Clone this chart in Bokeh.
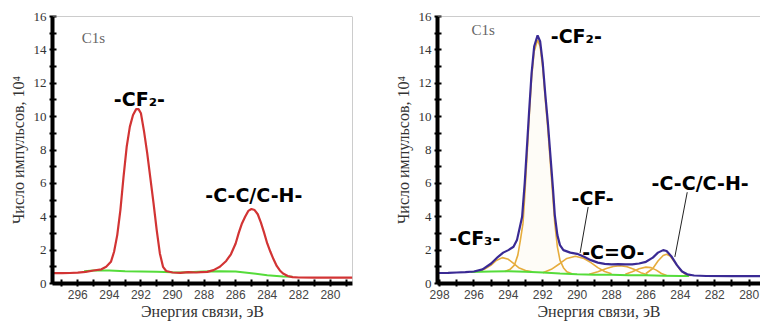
from bokeh.plotting import figure
from bokeh.layouts import row
from bokeh.models import Range1d, FixedTicker, Span, Label
from bokeh.embed import file_html
from bokeh.resources import INLINE

# ---------------- data ----------------
left_total_x = [297.6, 297.0, 296.5, 296.0, 295.5, 295.0, 294.5, 294.2, 293.9, 293.7, 293.5,
                293.3, 293.1, 292.9, 292.7, 292.5, 292.3, 292.15, 292.0, 291.8, 291.6, 291.4,
                291.2, 291.0, 290.8, 290.6, 290.4, 290.0, 289.5, 289.0, 288.5, 288.2, 287.8,
                287.4, 287.0, 286.6, 286.3, 286.0, 285.8, 285.6, 285.4, 285.2, 285.0, 284.8,
                284.6, 284.4, 284.2, 284.0, 283.8, 283.6, 283.4, 283.2, 283.0, 282.7, 282.4,
                282.0, 281.0, 280.0, 278.6]
left_total_y = [0.62, 0.62, 0.63, 0.65, 0.70, 0.78, 0.85, 1.00, 1.30, 1.90, 2.90,
                4.40, 6.40, 8.20, 9.40, 10.10, 10.45, 10.45, 10.20, 9.10, 7.80, 6.30,
                4.80, 3.20, 1.80, 1.00, 0.75, 0.66, 0.64, 0.68, 0.66, 0.68, 0.70,
                0.80, 1.00, 1.35, 1.75, 2.40, 3.05, 3.60, 4.00, 4.35, 4.46, 4.40,
                4.15, 3.65, 3.05, 2.40, 1.90, 1.45, 1.05, 0.78, 0.60, 0.45, 0.38,
                0.36, 0.35, 0.35, 0.35]
left_bg_x = [295.6, 295.0, 294.0, 293.0, 292.0, 291.0, 290.0, 289.5, 289.0, 288.0, 287.0,
             286.0, 285.0, 284.0, 283.0, 282.4]
left_bg_y = [0.74, 0.78, 0.78, 0.74, 0.72, 0.70, 0.67, 0.66, 0.68, 0.72, 0.74,
             0.72, 0.62, 0.50, 0.42, 0.40]

right_total_x = [298.1, 297.5, 297.0, 296.5, 296.0, 295.5, 295.0, 294.6, 294.3, 294.0, 293.7,
                 293.5, 293.35, 293.2, 293.05, 292.9, 292.8, 292.65, 292.5, 292.3, 292.15,
                 292.0, 291.85, 291.7, 291.55, 291.4, 291.3, 291.15, 291.0, 290.8, 290.4,
                 290.0, 289.6, 289.2, 288.8, 288.4, 288.0, 287.6, 287.2, 286.8, 286.4, 286.0,
                 285.6, 285.3, 285.0, 284.8, 284.5, 284.2, 283.9, 283.6, 283.2, 282.5, 281.0,
                 279.3]
right_total_y = [0.63, 0.64, 0.66, 0.68, 0.72, 0.85, 1.20, 1.60, 1.85, 2.00, 2.20,
                 2.60, 3.30, 4.00, 6.00, 8.50, 10.20, 12.60, 14.20, 14.87, 14.50,
                 13.20, 11.30, 9.60, 7.60, 5.60, 4.10, 2.90, 2.30, 2.00, 1.85,
                 1.78, 1.60, 1.40, 1.25, 1.18, 1.15, 1.16, 1.15, 1.15, 1.20, 1.30,
                 1.55, 1.85, 2.00, 1.95, 1.60, 1.10, 0.72, 0.55, 0.48, 0.45, 0.44,
                 0.44]
right_bg_x = [296.2, 295.0, 294.0, 293.0, 292.0, 291.0, 290.0, 289.0, 288.0, 287.0, 286.0,
              285.0, 284.0, 283.5]
right_bg_y = [0.69, 0.72, 0.73, 0.70, 0.66, 0.60, 0.56, 0.53, 0.52, 0.50, 0.49,
              0.47, 0.45, 0.45]

cf3_x = [295.8, 295.4, 295.0, 294.7, 294.35, 294.0, 293.7, 293.4, 293.0, 292.6]
cf3_y = [0.72, 0.85, 1.10, 1.38, 1.55, 1.45, 1.20, 0.95, 0.78, 0.70]

cf2_x = [294.2, 293.9, 293.65, 293.45, 293.3, 293.15, 293.05, 292.9, 292.8, 292.65, 292.5,
         292.3, 292.15, 292.0, 291.85, 291.7, 291.55, 291.4, 291.3, 291.15, 291.0, 290.8,
         290.6, 290.3]
cf2_y = [0.72, 0.85, 1.10, 1.70, 2.60, 3.60, 5.20, 7.90, 9.80, 12.30, 13.90,
         14.60, 14.20, 12.90, 11.00, 9.20, 7.10, 5.00, 3.60, 2.20, 1.40, 0.95,
         0.70, 0.58]

cf_x = [292.0, 291.5, 291.0, 290.6, 290.1, 289.6, 289.2, 288.8, 288.4, 288.0]
cf_y = [0.65, 0.85, 1.20, 1.50, 1.63, 1.50, 1.25, 0.95, 0.72, 0.58]

co_x = [289.3, 288.8, 288.3, 287.9, 287.5, 287.1, 286.7, 286.3, 285.9]
co_y = [0.55, 0.70, 0.90, 1.02, 1.06, 1.00, 0.85, 0.65, 0.52]

c286_x = [287.2, 286.8, 286.4, 286.0, 285.7, 285.4, 285.1, 284.8]
c286_y = [0.55, 0.70, 0.88, 0.98, 0.95, 0.80, 0.60, 0.48]

cc_x = [286.0, 285.6, 285.3, 285.0, 284.8, 284.6, 284.3, 284.0, 283.7, 283.4]
cc_y = [0.60, 0.90, 1.35, 1.68, 1.75, 1.65, 1.25, 0.80, 0.55, 0.46]

y_major = [0, 2, 4, 6, 8, 10, 12, 14, 16]
y_minor = [1, 3, 5, 7, 9, 11, 13, 15]
x_major = [280, 282, 284, 286, 288, 290, 292, 294, 296, 298]
x_minor = [279, 281, 283, 285, 287, 289, 291, 293, 295, 297]

y_label = "Число импульсов, 10⁴"
x_label = "Энергия связи, эВ"

# ---------------- styling ----------------
RED = "#d23434"
BLUE = "#3a2a94"
GREEN = "#55dc3a"
ORANGE = "#e6ac3c"
SERIF = "Liberation Serif"
SANS = "Liberation Sans"
BOLD = "DejaVu Sans"
FRAME = "#9a9a9a"
AXIS = "#000000"


def style_axes(p):
    p.xaxis.ticker = FixedTicker(ticks=x_major, minor_ticks=x_minor)
    p.yaxis.ticker = FixedTicker(ticks=y_major, minor_ticks=y_minor)
    p.xaxis.axis_line_width = 4
    p.yaxis.axis_line_width = 4
    p.xaxis.axis_line_color = AXIS
    p.yaxis.axis_line_color = AXIS
    p.axis.major_tick_line_color = AXIS
    p.axis.minor_tick_line_color = AXIS
    p.axis.major_tick_line_width = 2
    p.axis.minor_tick_line_width = 2
    p.axis.major_tick_in = 4
    p.axis.major_tick_out = 3
    p.axis.minor_tick_in = 4
    p.axis.minor_tick_out = 3
    p.axis.axis_label_text_font = SERIF
    p.axis.axis_label_text_font_style = "normal"
    p.axis.axis_label_text_font_size = "16px"
    p.axis.axis_label_text_color = "#333333"
    p.xaxis.major_label_text_font = SANS
    p.xaxis.major_label_text_font_size = "12px"
    p.xaxis.major_label_text_color = "#444444"
    p.xaxis.major_label_standoff = 3
    p.xaxis.axis_label_standoff = 1
    p.yaxis.major_label_text_font = SERIF
    p.yaxis.major_label_text_font_size = "13px"
    p.yaxis.major_label_text_color = "#333333"
    p.yaxis.major_label_standoff = 3
    p.yaxis.axis_label_standoff = 4
    p.xaxis.axis_label = x_label
    p.yaxis.axis_label = y_label
    p.grid.visible = False
    p.outline_line_color = None
    p.background_fill_color = "white"
    p.border_fill_color = "white"


def bold_label(p, x, y, text):
    p.add_layout(Label(x=x, y=y, text=text, text_align="center", text_baseline="middle",
                       text_font=BOLD, text_font_style="bold", text_font_size="19px",
                       text_color="#000000"))


# ---------------- left panel ----------------
pl = figure(width=380, height=322, output_backend="svg", toolbar_location=None,
            x_range=Range1d(297.6, 278.6), y_range=Range1d(0, 16),
            min_border_left=52, min_border_right=28, min_border_top=16, min_border_bottom=37)
style_axes(pl)
pl.add_layout(Span(location=16, dimension="width", line_color=FRAME, line_width=1))
pl.add_layout(Span(location=278.6, dimension="height", line_color=FRAME, line_width=1))
pl.line(left_bg_x, left_bg_y, line_color=GREEN, line_width=2)
pl.line(left_total_x, left_total_y, line_color=RED, line_width=2.2)
pl.add_layout(Label(x=295.75, y=14.7, text="C1s", text_align="left", text_baseline="middle",
                    text_font=SERIF, text_font_size="15px", text_color="#666666"))
bold_label(pl, 292.1, 11.05, "-CF₂-")
bold_label(pl, 284.85, 5.3, "-C-C/C-H-")

# ---------------- right panel ----------------
pr = figure(width=380, height=322, output_backend="svg", toolbar_location=None,
            x_range=Range1d(298.12, 279.34), y_range=Range1d(0, 16),
            min_border_left=57, min_border_right=0, min_border_top=16, min_border_bottom=37)
style_axes(pr)
pr.add_layout(Span(location=16, dimension="width", line_color=FRAME, line_width=1))
pr.patch(cf2_x, cf2_y, fill_color=ORANGE, fill_alpha=0.04, line_color=None)
for cx, cy in ((cf3_x, cf3_y), (cf2_x, cf2_y), (cf_x, cf_y), (co_x, co_y),
               (c286_x, c286_y), (cc_x, cc_y)):
    pr.line(cx, cy, line_color=ORANGE, line_width=1.6)
pr.line(right_bg_x, right_bg_y, line_color=GREEN, line_width=2)
pr.line(right_total_x, right_total_y, line_color=BLUE, line_width=2.2)
pr.add_layout(Label(x=296.15, y=15.2, text="C1s", text_align="left", text_baseline="middle",
                    text_font=SERIF, text_font_size="15px", text_color="#666666"))
bold_label(pr, 290.05, 14.85, "-CF₂-")
bold_label(pr, 295.95, 2.7, "-CF₃-")
bold_label(pr, 289.1, 5.1, "-CF-")
bold_label(pr, 287.9, 1.9, "-C=O-")
bold_label(pr, 282.85, 6.0, "-C-C/C-H-")
pr.segment(x0=[289.36, 283.6], y0=[4.58, 5.47], x1=[289.83, 284.32], y1=[1.83, 1.59],
           line_color="#222222", line_width=1)

layout = row(pl, pr)
open("out.html", "w").write(file_html(layout, INLINE))
